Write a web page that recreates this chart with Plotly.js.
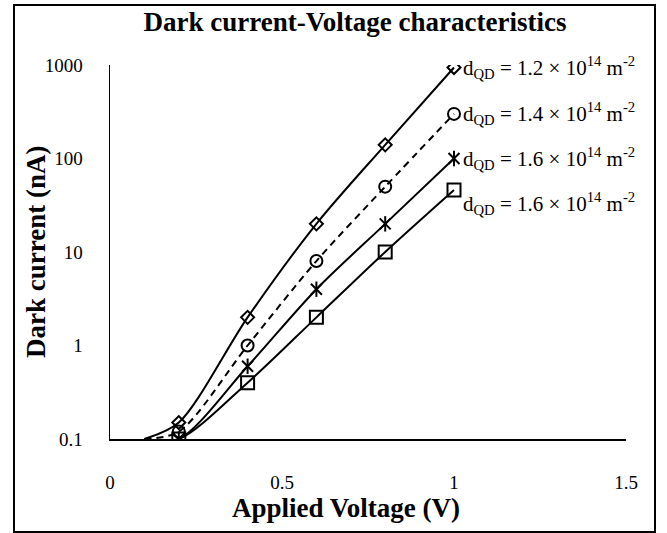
<!DOCTYPE html>
<html>
<head>
<meta charset="utf-8">
<script src="https://cdn.plot.ly/plotly-3.0.1.min.js"></script>
<style>
  html, body { margin: 0; padding: 0; background: #ffffff; }
  #chart { width: 667px; height: 533px; }
</style>
</head>
<body>
<div id="chart"></div>
<script>
// Applied bias (V) at which dark current was measured
const voltage = [0.2, 0.4, 0.6, 0.8, 1.0];

// Dark current (nA) for each quantum-dot density
const current12 = [0.15, 2, 20, 140, 940];
const current14 = [0.12, 1, 8, 50, 300];
const current16a = [0.1, 0.6, 4, 20, 100];
const current16b = [0.1, 0.4, 2, 10, 46];

// Each fitted curve rises off the 0.1 nA floor at 0.1 V
const startVoltage = 0.1;
const startCurrent = 0.1;

const seriesLabels = [
  'd<sub>QD</sub> = 1.2 × 10<sup>14</sup> m<sup>-2</sup>',
  'd<sub>QD</sub> = 1.4 × 10<sup>14</sup> m<sup>-2</sup>',
  'd<sub>QD</sub> = 1.6 × 10<sup>14</sup> m<sup>-2</sup>',
  'd<sub>QD</sub> = 1.6 × 10<sup>14</sup> m<sup>-2</sup>'
];

const xTickVals = [0, 0.5, 1, 1.5];
const xTickText = ['0', '0.5', '1', '1.5'];
const yTickVals = [0.1, 1, 10, 100, 1000];
const yTickText = ['0.1', '1', '10', '100', '1000'];

const FONT = '"Liberation Serif", "Times New Roman", Times, serif';
const INK = '#000000';

const seriesList = [
  { y: current12, dash: 'solid', symbols: ['diamond-open'], size: 10, labelShift: 0 },
  { y: current14, dash: '7px,5px', symbols: ['circle-open'], size: 12, labelShift: 0 },
  { y: current16a, dash: 'solid', symbols: ['x-thin-open', 'line-ns-open'], size: 11, labelShift: 0 },
  { y: current16b, dash: 'solid', symbols: ['square-open'], size: 13, labelShift: -13 }
];

const traces = [];
seriesList.forEach(function (s, i) {
  // smoothed curve through the measured points
  traces.push({
    x: [startVoltage].concat(voltage),
    y: [startCurrent].concat(s.y),
    mode: 'lines',
    line: { color: INK, width: 2, shape: 'spline', smoothing: 0.85, dash: s.dash },
    hoverinfo: 'skip',
    showlegend: false
  });
  // measured points
  s.symbols.forEach(function (sym) {
    traces.push({
      x: voltage,
      y: s.y,
      mode: 'markers',
      marker: { symbol: sym, size: s.size, color: INK, line: { color: INK, width: 2 } },
      name: seriesLabels[i],
      showlegend: false
    });
  });
});

// series labels placed beside the last point of each curve
const seriesAnnotations = seriesList.map(function (s, i) {
  const last = s.y[s.y.length - 1];
  return {
    x: voltage[voltage.length - 1],
    y: Math.log10(last),
    xref: 'x', yref: 'y',
    xanchor: 'left', yanchor: 'middle',
    xshift: 7, yshift: s.labelShift,
    text: seriesLabels[i],
    showarrow: false,
    font: { family: FONT, size: 21, color: INK }
  };
});

const plotLeft = 110, plotRight = 626, plotTop = 65, plotBottom = 439;
const plotW = plotRight - plotLeft, plotH = plotBottom - plotTop;
const px = function (v) { return (v - plotLeft) / plotW; };
const py = function (v) { return (plotBottom - v) / plotH; };

const layout = {
  width: 667,
  height: 533,
  margin: { l: plotLeft, r: 667 - plotRight, t: plotTop, b: 533 - plotBottom, pad: 0 },
  paper_bgcolor: '#ffffff',
  plot_bgcolor: '#ffffff',
  font: { family: FONT, color: INK },
  showlegend: false,
  title: {
    text: '<b>Dark current-Voltage characteristics</b>',
    font: { family: FONT, size: 27, color: INK },
    xref: 'paper', x: px(355), xanchor: 'center',
    yref: 'container', y: 1 - 22 / 533, yanchor: 'middle'
  },
  xaxis: {
    range: [0, 1.5],
    tickvals: xTickVals,
    ticktext: xTickText,
    ticks: '',
    ticklabelstandoff: 26,
    tickfont: { family: FONT, size: 19, color: INK },
    showgrid: false,
    zeroline: false,
    showline: true,
    linecolor: INK,
    linewidth: 1.5,
    fixedrange: true
  },
  yaxis: {
    type: 'log',
    range: [-1, 3],
    tickvals: yTickVals,
    ticktext: yTickText,
    ticks: '',
    ticklabelstandoff: 22,
    tickfont: { family: FONT, size: 19, color: INK },
    showgrid: false,
    zeroline: false,
    showline: true,
    linecolor: INK,
    linewidth: 1.5,
    fixedrange: true
  },
  annotations: seriesAnnotations.concat([
    {
      text: '<b>Applied Voltage (V)</b>',
      xref: 'paper', yref: 'paper',
      x: px(346), y: py(508),
      xanchor: 'center', yanchor: 'middle',
      showarrow: false,
      font: { family: FONT, size: 27, color: INK }
    },
    {
      text: '<b>Dark current (nA)</b>',
      xref: 'paper', yref: 'paper',
      x: px(36), y: py(252),
      xanchor: 'center', yanchor: 'middle',
      textangle: -90,
      showarrow: false,
      font: { family: FONT, size: 27, color: INK }
    }
  ]),
  shapes: [
    {
      // chart frame
      type: 'rect',
      xref: 'paper', yref: 'paper',
      x0: px(14), x1: px(655), y0: py(532), y1: py(5),
      line: { color: INK, width: 2 },
      fillcolor: 'rgba(0,0,0,0)',
      layer: 'below'
    }
  ]
};

Plotly.newPlot('chart', traces, layout, { displayModeBar: false, staticPlot: true });
</script>
</body>
</html>
